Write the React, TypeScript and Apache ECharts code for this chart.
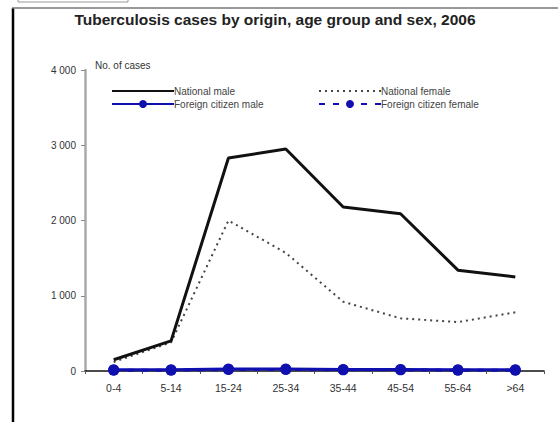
import React, { useEffect, useRef } from "react";
import * as echarts from "echarts";

const categories = ["0-4", "5-14", "15-24", "25-34", "35-44", "45-54", "55-64", ">64"];
const nationalMale = [150, 400, 2830, 2950, 2180, 2090, 1340, 1250];
const nationalFemale = [120, 380, 2000, 1570, 920, 700, 650, 780];
const foreignMale = [15, 15, 25, 25, 20, 20, 15, 15];
const foreignFemale = [10, 10, 20, 20, 15, 15, 10, 10];
const yTicks = [0, 1000, 2000, 3000, 4000];

const FONT = "Liberation Sans, Arial, sans-serif";
const BLUE = "#1010b0";

export default function App() {
  const ref = useRef<HTMLDivElement>(null);
  useEffect(() => {
    if (!ref.current) return;
    const chart = echarts.init(ref.current, undefined, { renderer: "svg" });
    const legendText = { fontFamily: FONT, fontSize: 10, color: "#444", padding: [0, 0, 0, -5] };
    chart.setOption({
      animation: false,
      backgroundColor: "#ffffff",
      textStyle: { fontFamily: FONT },
      title: {
        text: "Tuberculosis cases by origin, age group and sex, 2006",
        left: 270,
        textAlign: "center",
        top: 6,
        textStyle: { fontFamily: FONT, fontSize: 15.5, fontWeight: "bold", color: "#222" },
      },
      grid: { left: 85, right: 14, top: 70, bottom: 51, containLabel: false },
      legend: [
        {
          data: [
            { name: "National male", itemStyle: { opacity: 0 } },
            { name: "Foreign citizen male" },
          ],
          orient: "vertical",
          left: 106,
          top: 81,
          itemWidth: 62,
          itemHeight: 10,
          itemGap: 3,
          textStyle: legendText,
        },
        {
          data: [
            { name: "National female", itemStyle: { opacity: 0 } },
            { name: "Foreign citizen female" },
          ],
          orient: "vertical",
          left: 313,
          top: 81,
          itemWidth: 62,
          itemHeight: 10,
          itemGap: 3,
          textStyle: legendText,
        },
      ],
      xAxis: {
        type: "category",
        data: categories,
        boundaryGap: true,
        axisLine: { show: true, lineStyle: { color: "#111", width: 1.5 } },
        axisTick: { show: true, interval: 0, length: 3, lineStyle: { color: "#555" } },
        axisLabel: { fontFamily: FONT, fontSize: 10.5, color: "#333", margin: 11, interval: 0 },
        splitLine: { show: false },
      },
      yAxis: {
        type: "value",
        min: yTicks[0],
        max: yTicks[yTicks.length - 1],
        interval: 1000,
        axisLine: { show: true, lineStyle: { color: "#aaaaaa", width: 2.5 } },
        axisTick: { show: true, length: 4, lineStyle: { color: "#888" } },
        axisLabel: {
          fontFamily: FONT,
          fontSize: 10,
          color: "#333",
          margin: 9,
          formatter: (v: number) => String(v).replace(/\B(?=(\d{3})+(?!\d))/g, " "),
        },
        splitLine: { show: false },
      },
      graphic: [
        {
          type: "line",
          shape: { x1: 13, y1: 8, x2: 13, y2: 422 },
          style: { stroke: "#000", lineWidth: 2.5 },
        },
        {
          type: "line",
          shape: { x1: 12, y1: 8, x2: 558, y2: 8 },
          style: { stroke: "#777", lineWidth: 1.5 },
        },
        {
          type: "rect",
          shape: { x: 18, y: -6, width: 110, height: 8 },
          style: { fill: "none", stroke: "#999", lineWidth: 1 },
        },
        {
          type: "text",
          x: 95,
          y: 60,
          style: { text: "No. of cases", fontFamily: FONT, fontSize: 10, fill: "#333" },
        },
      ],
      series: [
        {
          name: "National male",
          type: "line",
          data: nationalMale,
          symbol: "none",
          lineStyle: { color: "#111", width: 3 },
          itemStyle: { color: "#111" },
          z: 3,
        },
        {
          name: "National female",
          type: "line",
          data: nationalFemale,
          symbol: "none",
          lineStyle: { color: "#444", width: 2, type: [2, 4] },
          itemStyle: { color: "#444" },
          z: 2,
        },
        {
          name: "Foreign citizen male",
          type: "line",
          data: foreignMale,
          symbol: "circle",
          symbolSize: 11,
          lineStyle: { color: BLUE, width: 3 },
          itemStyle: { color: BLUE },
          z: 4,
        },
        {
          name: "Foreign citizen female",
          type: "line",
          data: foreignFemale,
          symbol: "circle",
          symbolSize: 11,
          lineStyle: { color: BLUE, width: 3, type: [6, 8] },
          itemStyle: { color: BLUE },
          z: 4,
        },
      ],
    });
    return () => chart.dispose();
  }, []);
  return (
    <div
      ref={ref}
      style={{ position: "fixed", left: 0, top: 0, width: 558, height: 422, background: "#fff" }}
    />
  );
}
